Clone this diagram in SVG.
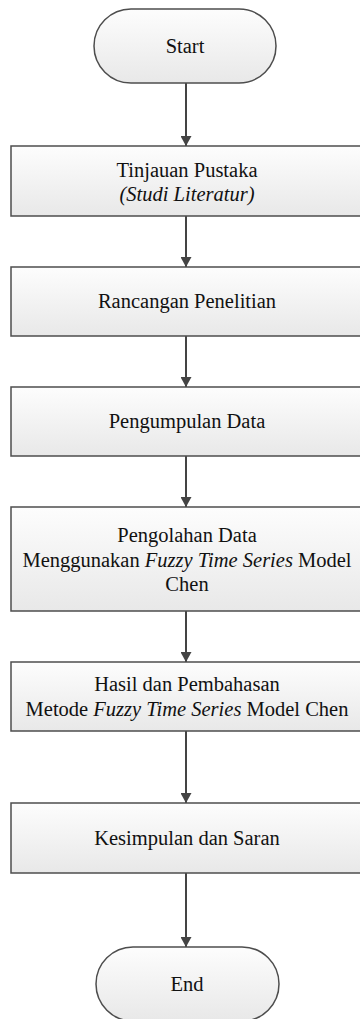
<svg xmlns="http://www.w3.org/2000/svg" width="360" height="1019" viewBox="0 0 360 1019" font-family="'Liberation Serif', 'Times New Roman', Times, 'DejaVu Serif', serif">
  <style>
    .shape { fill: url(#shade); stroke: #4d4d4d; stroke-width: 1.5; }
    .label { font-family: 'Liberation Serif', 'Times New Roman', Times, 'DejaVu Serif', serif; font-size: 20.5px; fill: #111; text-anchor: middle; }
    .it { font-style: italic; }
    .link { stroke: #444; stroke-width: 2; fill: none; marker-end: url(#head); }
  </style>
  <defs>
    <linearGradient id="shade" x1="0" y1="0" x2="0" y2="1">
      <stop offset="0" stop-color="#fdfdfd"/>
      <stop offset="1" stop-color="#e8e8e8"/>
    </linearGradient>
    <marker id="head" viewBox="0 0 10 11" refX="10" refY="5.5" markerWidth="10" markerHeight="11" markerUnits="userSpaceOnUse" orient="auto">
      <path d="M0,0 L10,5.5 L0,11 Z" fill="#444"/>
    </marker>
  </defs>
  <rect width="360" height="1019" fill="#ffffff"/>

  <!-- flow connectors -->
  <g id="connectors">
    <line class="link" x1="186" y1="83" x2="186" y2="146"/>
    <line class="link" x1="186" y1="216" x2="186" y2="267"/>
    <line class="link" x1="186" y1="336" x2="186" y2="387"/>
    <line class="link" x1="186" y1="456" x2="186" y2="507"/>
    <line class="link" x1="186" y1="611" x2="186" y2="662"/>
    <line class="link" x1="186" y1="731" x2="186" y2="803"/>
    <line class="link" x1="186" y1="873" x2="186" y2="947"/>
  </g>

  <g id="start">
    <rect class="shape" x="94" y="9" width="182" height="74" rx="37" ry="37"/>
    <text class="label" x="185" y="53">Start</text>
  </g>

  <g id="tinjauan-pustaka">
    <rect class="shape" x="11" y="146" width="352" height="70"/>
    <text class="label" x="187" y="177">Tinjauan Pustaka</text>
    <text class="label it" x="187" y="201">(Studi Literatur)</text>
  </g>

  <g id="rancangan-penelitian">
    <rect class="shape" x="11" y="267" width="352" height="69"/>
    <text class="label" x="187" y="308">Rancangan Penelitian</text>
  </g>

  <g id="pengumpulan-data">
    <rect class="shape" x="11" y="387" width="352" height="69"/>
    <text class="label" x="187" y="428">Pengumpulan Data</text>
  </g>

  <g id="pengolahan-data">
    <rect class="shape" x="11" y="507" width="352" height="104"/>
    <text class="label" x="187" y="542">Pengolahan Data</text>
    <text class="label" x="187" y="567">Menggunakan <tspan class="it">Fuzzy Time Series</tspan> Model</text>
    <text class="label" x="187" y="591">Chen</text>
  </g>

  <g id="hasil-pembahasan">
    <rect class="shape" x="11" y="662" width="352" height="69"/>
    <text class="label" x="187" y="691">Hasil dan Pembahasan</text>
    <text class="label" x="187" y="716">Metode <tspan class="it">Fuzzy Time Series</tspan> Model Chen</text>
  </g>

  <g id="kesimpulan-saran">
    <rect class="shape" x="11" y="803" width="352" height="70"/>
    <text class="label" x="187" y="845">Kesimpulan dan Saran</text>
  </g>

  <g id="end">
    <rect class="shape" x="96" y="947" width="183" height="74" rx="37" ry="37"/>
    <text class="label" x="187" y="991">End</text>
  </g>
</svg>
